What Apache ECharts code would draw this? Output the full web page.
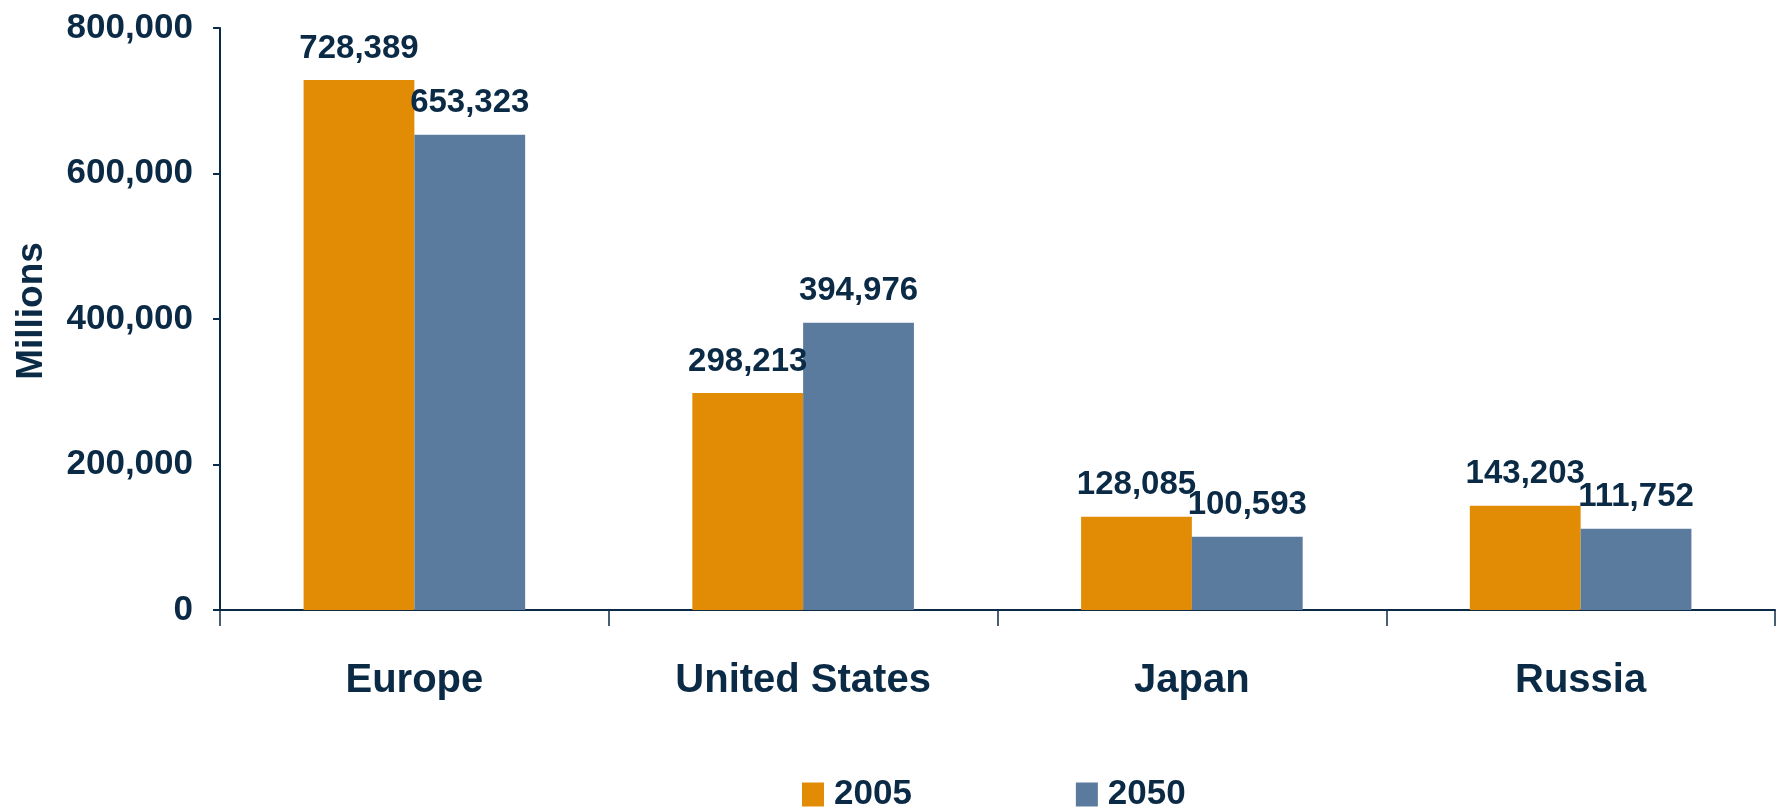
<!DOCTYPE html>
<html>
<head>
<meta charset="utf-8">
<script src="https://cdn.jsdelivr.net/npm/echarts@6/dist/echarts.min.js"></script>
<style>
  html, body { margin: 0; padding: 0; background: #fff; }
  #chart { width: 1778px; height: 812px; }
</style>
</head>
<body>
<div id="chart"></div>
<script>
var categories = ['Europe', 'United States', 'Japan', 'Russia'];
var values2005 = [728389, 298213, 128085, 143203];
var values2050 = [653323, 394976, 100593, 111752];
var yTicks = [0, 200000, 400000, 600000, 800000];

var ink = '#0b2a45';
var font = '"Liberation Sans", Arial, sans-serif';

function fmt(v) {
  return String(v).replace(/\B(?=(\d{3})+(?!\d))/g, ',');
}

var chart = echarts.init(document.getElementById('chart'));
chart.setOption({
  animation: false,
  color: ['#e28c05', '#5b7b9e'],
  textStyle: { fontFamily: font },
  legend: {
    data: ['2005', '2050'],
    left: 797,
    top: 772,
    itemWidth: 22,
    itemHeight: 24,
    itemGap: 164,
    icon: 'rect',
    textStyle: { color: ink, fontSize: 35, fontWeight: 'bold', fontFamily: font, padding: [0, 0, 0, 5] }
  },
  grid: { left: 220, right: 3, top: 28, bottom: 202 },
  xAxis: {
    type: 'category',
    data: categories,
    axisLine: { lineStyle: { color: ink, width: 2 } },
    axisTick: { show: true, interval: 0, length: 16, lineStyle: { color: ink, width: 1.5 } },
    axisLabel: { color: ink, fontSize: 40, fontWeight: 'bold', fontFamily: font, margin: 51 }
  },
  yAxis: {
    type: 'value',
    min: yTicks[0],
    max: yTicks[yTicks.length - 1],
    interval: yTicks[1] - yTicks[0],
    name: 'Millions',
    nameLocation: 'middle',
    nameGap: 170,
    nameRotate: 90,
    nameTextStyle: { color: ink, fontSize: 37, fontWeight: 'bold', fontFamily: font, padding: [0, 0, 0, 16] },
    splitLine: { show: false },
    axisLine: { show: true, lineStyle: { color: ink, width: 2 } },
    axisTick: { show: true, length: 7, lineStyle: { color: ink, width: 2 } },
    axisLabel: {
      color: ink, fontSize: 35, fontWeight: 'bold', fontFamily: font, margin: 27,
      formatter: function (v) { return fmt(v); }
    }
  },
  series: [{
    name: '2005',
    type: 'bar',
    data: values2005,
    barGap: '0%',
    barCategoryGap: '43%',
    label: {
      show: true, position: 'top', distance: 15,
      color: ink, fontSize: 33, fontWeight: 'bold', fontFamily: font,
      formatter: function (p) { return fmt(p.value); }
    }
  }, {
    name: '2050',
    type: 'bar',
    data: values2050,
    barGap: '0%',
    barCategoryGap: '43%',
    label: {
      show: true, position: 'top', distance: 15,
      color: ink, fontSize: 33, fontWeight: 'bold', fontFamily: font,
      formatter: function (p) { return fmt(p.value); }
    }
  }]
});
</script>
</body>
</html>
